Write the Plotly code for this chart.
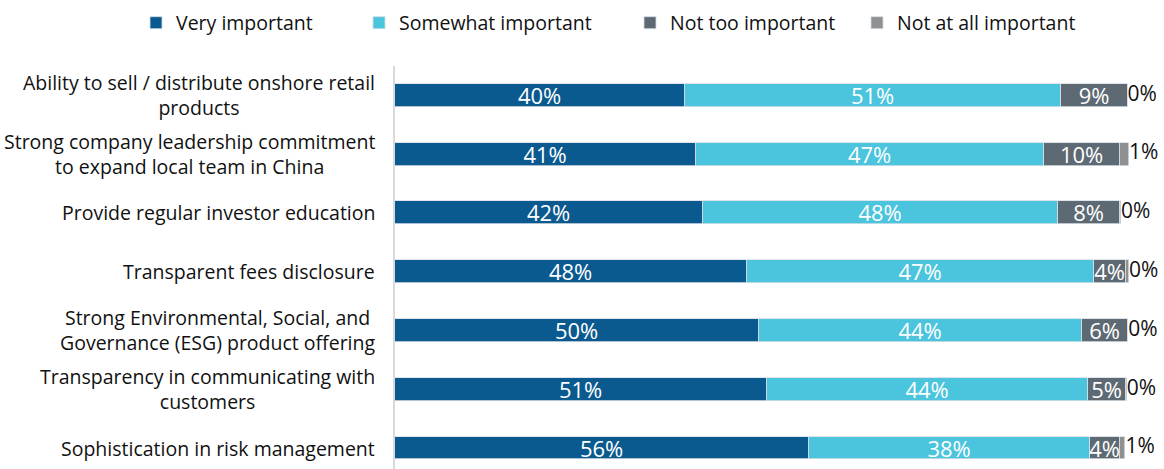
import plotly.graph_objects as go

categories = [
    "Ability to sell / distribute onshore retail<br>products",
    "Strong company leadership commitment<br>to expand local team in China",
    "Provide regular investor education",
    "Transparent fees disclosure",
    "Strong Environmental, Social, and<br>Governance (ESG) product offering",
    "Transparency in communicating with<br>customers",
    "Sophistication in risk management",
]
series_names = ["Very important", "Somewhat important", "Not too important", "Not at all important"]
very_important = [39.6, 41.1, 42.0, 48.0, 49.6, 50.7, 56.4]
somewhat_important = [51.2, 47.4, 48.4, 47.3, 44.1, 43.8, 38.4]
not_too_important = [9.1, 10.4, 8.4, 4.4, 6.3, 5.2, 4.0]
not_at_all_important = [0.0, 1.2, 0.2, 0.4, 0.0, 0.1, 0.8]

colors = ["#0b5a8f", "#4bc4dd", "#5e6a73", "#8e9091"]
FONT = "Open Sans"

series = [very_important, somewhat_important, not_too_important, not_at_all_important]
ypos = list(range(len(categories)))

fig = go.Figure()
legend_ids = ["legend", "legend2", "legend3", "legend4"]
for i, (name, vals) in enumerate(zip(series_names, series)):
    show_text = i < 3
    fig.add_trace(go.Bar(
        name=name,
        x=vals,
        y=ypos,
        orientation="h",
        width=0.39,
        marker=dict(color=colors[i], line=dict(color="#d6dde3", width=0.8)),
        text=[f"{v:.0f}%" for v in vals] if show_text else None,
        textposition="inside" if show_text else "none",
        insidetextanchor="middle",
        constraintext="none",
        textfont=dict(family=FONT, size=22, color="white"),
        legend=legend_ids[i],
        hoverinfo="skip",
    ))

totals = [sum(s[k] for s in series) for k in range(len(categories))]
fig.add_trace(go.Scatter(
    x=totals,
    y=ypos,
    mode="text",
    text=[f"{v:.0f}%" for v in not_at_all_important],
    textposition="middle right",
    textfont=dict(family=FONT, size=21, color="#111111"),
    showlegend=False,
    cliponaxis=False,
    hoverinfo="skip",
))

for k, cat in enumerate(categories):
    fig.add_annotation(
        x=0, xref="paper", xanchor="right", xshift=-18,
        y=k, yref="y", yanchor="middle",
        text=cat, align="center", showarrow=False,
        font=dict(family=FONT, size=19.5, color="#111111"),
    )

legend_x = [136, 359, 630, 857]
legends = {}
for i, lid in enumerate(legend_ids):
    legends[lid] = dict(
        x=legend_x[i] / 1164, xref="container", xanchor="left",
        y=1 - 23 / 469, yref="container", yanchor="middle",
        orientation="h", bgcolor="rgba(0,0,0,0)", borderwidth=0,
        font=dict(family=FONT, size=19.5, color="#111111"),
        traceorder="normal",
    )

fig.update_layout(
    width=1164, height=469,
    barmode="stack",
    plot_bgcolor="white", paper_bgcolor="white",
    margin=dict(l=395, r=21, t=66, b=0),
    bargap=0,
    xaxis=dict(range=[0, 102], showgrid=False, zeroline=False, showticklabels=False, showline=False, fixedrange=True),
    yaxis=dict(range=[6.357, -0.5], showgrid=False, zeroline=False, showticklabels=False,
               showline=True, linecolor="#d9d9d9", linewidth=2, ticks="", fixedrange=True),
    font=dict(family=FONT, color="#111111"),
    **legends,
)

fig.write_html("out.html")
